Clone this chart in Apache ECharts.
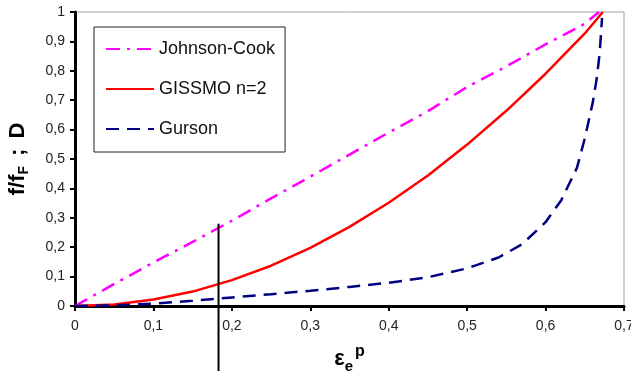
<!DOCTYPE html>
<html>
<head>
<meta charset="utf-8">
<script src="https://cdn.jsdelivr.net/npm/echarts@6/dist/echarts.min.js"></script>
<style>html,body{margin:0;padding:0;background:#fff}#c{width:631px;height:371px}</style>
</head>
<body>
<div id="c"></div>
<script>
var seriesNames = ['Johnson-Cook', 'GISSMO n=2', 'Gurson'];
var johnsonCook = [[0,0],[0.05,0.075],[0.1,0.148],[0.15,0.218],[0.2,0.29],[0.25,0.366],[0.3,0.44],[0.35,0.515],[0.4,0.59],[0.45,0.663],[0.5,0.745],[0.55,0.815],[0.6,0.89],[0.65,0.96],[0.668,1.0]];
var gissmo = [[0,0],[0.05,0.005],[0.1,0.022],[0.15,0.049],[0.2,0.088],[0.25,0.137],[0.3,0.198],[0.35,0.269],[0.4,0.351],[0.45,0.444],[0.5,0.549],[0.55,0.664],[0.6,0.79],[0.65,0.927],[0.673,1.0]];
var gurson = [[0,0],[0.05,0.002],[0.1,0.008],[0.15,0.018],[0.2,0.029],[0.25,0.04],[0.3,0.052],[0.35,0.065],[0.4,0.079],[0.45,0.098],[0.5,0.128],[0.54,0.165],[0.57,0.21],[0.6,0.285],[0.62,0.36],[0.64,0.47],[0.65,0.57],[0.66,0.69],[0.665,0.77],[0.669,0.86],[0.672,0.98]];
var markerLine = [[0.183,0.28],[0.183,-0.23]];
var xTicks = {min:0, max:0.7, interval:0.1};
var yTicks = {min:0, max:1, interval:0.1};

function fmt(v){ return String(Math.round(v*10)/10).replace('.', ','); }

var chart = echarts.init(document.getElementById('c'));
chart.setOption({
  animation:false,
  backgroundColor:'#fff',
  textStyle:{fontFamily:'Liberation Sans, Arial, sans-serif'},
  grid:{left:75, right:7, top:12, bottom:65, outerBoundsMode:'none', containLabel:false,
        show:true, borderColor:'#a0a0a0', borderWidth:1, backgroundColor:'transparent'},
  legend:{
    data:seriesNames.map(function(n){ return {name:n, itemStyle:{opacity:0}}; }),
    orient:'vertical', left:94, top:27,
    backgroundColor:'#fff', borderColor:'#222', borderWidth:1,
    padding:[13,10,14,11], itemGap:22, itemWidth:48, itemHeight:14,
    itemStyle:{opacity:0},
    textStyle:{fontSize:18, color:'#111', fontFamily:'Liberation Sans, Arial, sans-serif'}
  },
  xAxis:{
    type:'value', min:xTicks.min, max:xTicks.max, interval:xTicks.interval,
    splitLine:{show:false},
    axisLine:{lineStyle:{color:'#000', width:3}},
    axisTick:{show:true, length:5, lineStyle:{color:'#000', width:2}},
    axisLabel:{formatter:fmt, fontSize:14, color:'#222', margin:13},
    name:'{a|ε}{b|e}{c|p}', nameLocation:'middle', nameGap:38,
    nameTextStyle:{rich:{
      a:{fontSize:22, fontWeight:'bold', color:'#000', verticalAlign:'middle', lineHeight:30},
      b:{fontSize:15, fontWeight:'bold', color:'#000', verticalAlign:'bottom', lineHeight:14, padding:[0,2,0,0]},
      c:{fontSize:16, fontWeight:'bold', color:'#000', verticalAlign:'top', lineHeight:14}
    }}
  },
  yAxis:{
    type:'value', min:yTicks.min, max:yTicks.max, interval:yTicks.interval,
    splitLine:{show:false},
    axisLine:{lineStyle:{color:'#000', width:3}},
    axisTick:{show:true, length:5, lineStyle:{color:'#000', width:2}},
    axisLabel:{formatter:fmt, fontSize:14, color:'#222', margin:10},
    name:'{a|f/f}{s|F}{b|;}{a|D}', nameLocation:'middle', nameGap:44, nameRotate:90,
    nameTextStyle:{rich:{
      a:{fontSize:22, fontWeight:'bold', color:'#000', verticalAlign:'middle', lineHeight:26},
      s:{fontSize:14, fontWeight:'bold', color:'#000', verticalAlign:'bottom', lineHeight:16},
      b:{fontSize:22, fontWeight:'bold', color:'#000', verticalAlign:'middle', lineHeight:26, padding:[0,10,0,10]}
    }}
  },
  series:[
    {name:seriesNames[0], type:'line', data:johnsonCook, symbol:'none', smooth:false,
     lineStyle:{color:'#ff00ff', width:2.5, type:[14,7,3,7]}, itemStyle:{color:'#ff00ff'}, z:3},
    {name:seriesNames[1], type:'line', data:gissmo, symbol:'none', smooth:false,
     lineStyle:{color:'#ff0000', width:2.5, type:'solid'}, itemStyle:{color:'#ff0000'}, z:3},
    {name:seriesNames[2], type:'line', data:gurson, symbol:'none', smooth:false,
     lineStyle:{color:'#000080', width:2.5, type:[13,8]}, itemStyle:{color:'#000080'}, z:3},
    {name:'marker', type:'line', data:markerLine, symbol:'none', clip:false, silent:true,
     lineStyle:{color:'#000', width:2}, z:4}
  ]
});
</script>
</body>
</html>
